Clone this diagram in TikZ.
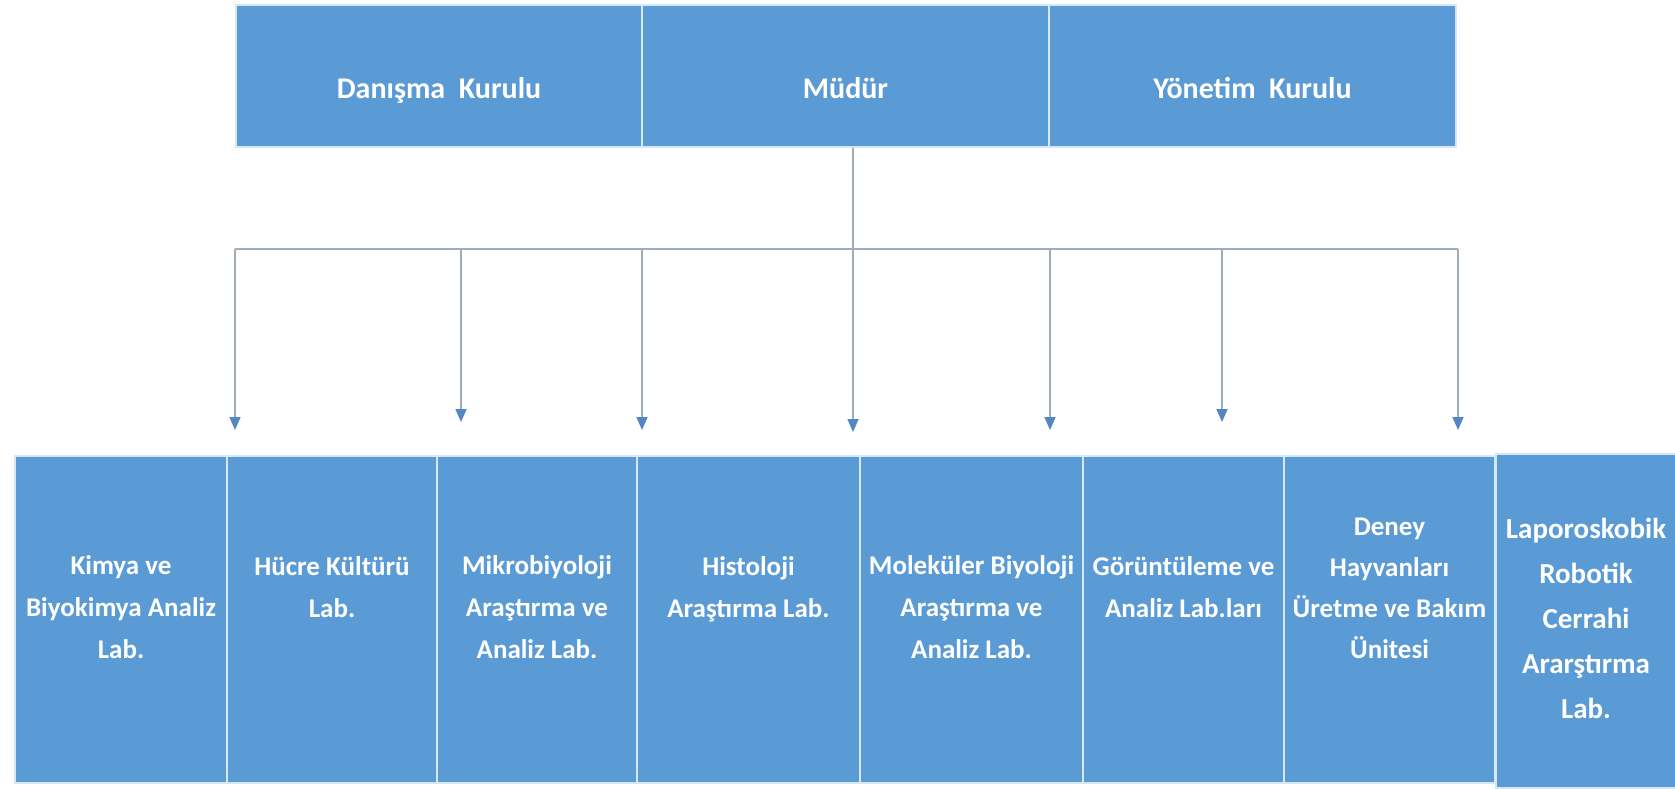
\documentclass[tikz,border=0pt]{standalone}
\usepackage{fontspec}
\setmainfont{Carlito}
\usetikzlibrary{arrows.meta}
\definecolor{boxblue}{RGB}{91,155,213}
\definecolor{boxline}{RGB}{214,232,248}
\definecolor{linegrey}{RGB}{160,172,184}
\definecolor{tipblue}{RGB}{84,134,194}

\begin{document}
\begin{tikzpicture}[x=1pt, y=-1pt,
    unit/.style={rectangle, draw=boxline, line width=1.5pt, fill=boxblue,
        text=white, align=center, inner sep=0pt},
    board/.style={unit, minimum width=#1, minimum height=142pt,
        text height=44pt, text depth=0pt,
        font=\bfseries\fontsize{30}{36}\selectfont},
    lab/.style={unit, minimum width=#1, minimum height=327pt,
        text height=97pt, text depth=20pt,
        font=\bfseries\fontsize{27}{42}\selectfont},
    short/.style={text height=15pt},
    conn/.style={draw=linegrey, line width=1.5pt},
    arr/.style={conn, -{Triangle[width=11pt,length=13pt,color=tipblue]}}]
\useasboundingbox (0,0) rectangle (1675,788);

\node[board=406pt] (danisma) at (439,76) {Danışma~~Kurulu};
\node[board=407pt] (mudur) at (845.5,76) {Müdür};
\node[board=407pt] (yonetim) at (1252.5,76) {Yönetim~~Kurulu};

\node[lab=212pt] (kimya) at (121,619.5) {Kimya ve\\Biyokimya Analiz\\Lab.};
\node[lab=210pt, short] (hucre) at (332,619.5) {Hücre Kültürü\\Lab.};
\node[lab=200pt] (mikro) at (537,619.5) {Mikrobiyoloji\\Araştırma ve\\Analiz Lab.};
\node[lab=223pt, short] (histo) at (748.5,619.5) {Histoloji\\Araştırma Lab.};
\node[lab=223pt] (molek) at (971.5,619.5) {Moleküler Biyoloji\\Araştırma ve\\Analiz Lab.};
\node[lab=201pt, short] (goruntu) at (1183.5,619.5) {Görüntüleme ve\\Analiz Lab.ları};
\node[lab=211pt, font=\bfseries\fontsize{27}{41}\selectfont] (deney)
    at (1389.5,619.5) {Deney\\Hayvanları\\Üretme ve Bakım\\Ünitesi};
\node[lab=180pt, minimum height=334pt, text height=214pt,
    font=\bfseries\fontsize{29}{45}\selectfont] (laparo) at (1586,621)
    {Laporoskobik\\Robotik\\Cerrahi\\Ararştırma\\Lab.};

\coordinate (bus) at (853,249);
\draw[conn] (bus |- mudur.south) -- (bus);
\foreach \px/\py [count=\i] in {235/430, 461/422, 642/430, 853/432,
    1050/430, 1222/422, 1458/430}{
  \coordinate (tip\i) at (\px,\py);
  \draw[arr] (tip\i |- bus) -- (tip\i);
}
\draw[conn] (tip1 |- bus) -- (tip7 |- bus);
\end{tikzpicture}
\end{document}
